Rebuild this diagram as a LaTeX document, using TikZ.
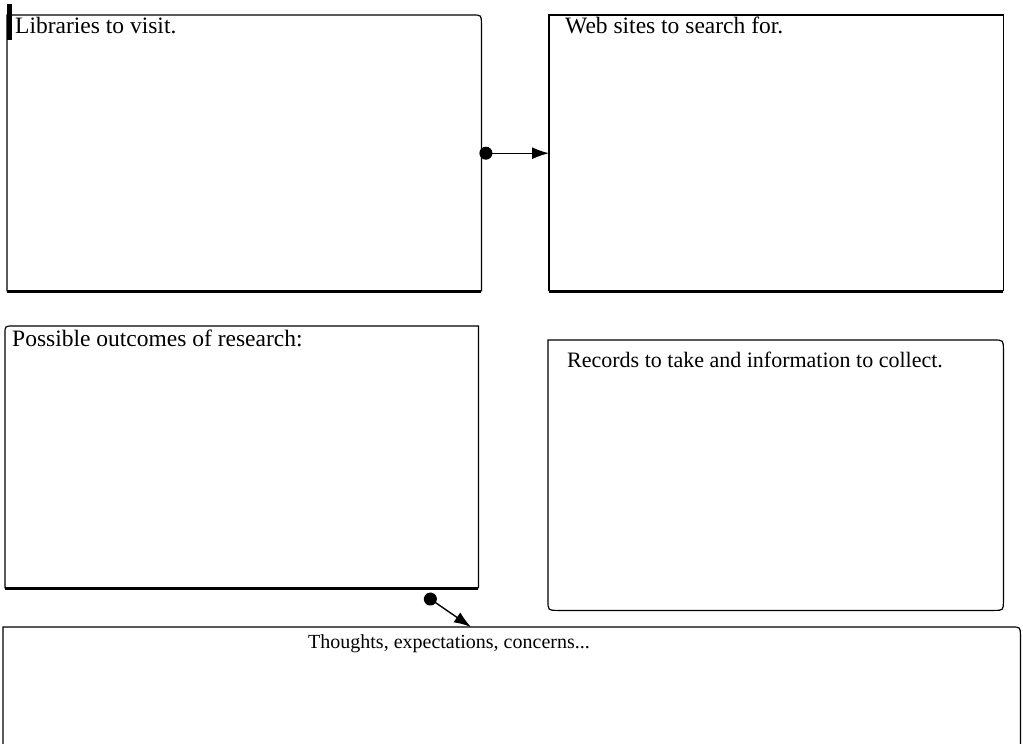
\documentclass[tikz,border=0pt]{standalone}
\usepackage{fontspec}
\setmainfont{Liberation Serif}
\usetikzlibrary{arrows.meta}

\tikzset{
  panel/.style={draw=none, inner sep=0pt, anchor=north west},
  frame/.style={draw=black, line width=1.2pt},
  heavy/.style={draw=black, line width=2.6pt},
  caption/.style={font=\fontsize{23.5}{26}\selectfont, inner sep=0pt},
  link/.style={draw=black, line width=1.4pt,
    {Circle[length=13pt]}-{Latex[length=17pt,width=12pt]}}
}

\begin{document}
\begin{tikzpicture}[x=1pt,y=-1pt]
  \useasboundingbox (0,0) rectangle (1023,744);

  % panel areas
  \node[panel, minimum width=474pt, minimum height=276pt] (lib) at (7,15) {};
  \node[panel, minimum width=454pt, minimum height=276pt] (web) at (549,15) {};
  \node[panel, minimum width=473pt, minimum height=262pt] (out) at (5,326) {};
  \node[panel, minimum width=455pt, minimum height=270pt] (rec) at (548,340) {};
  \node[panel, minimum width=1017pt, minimum height=117pt] (tho) at (3,627) {};

  % Libraries panel: rounded top-right corner, heavy bottom rule
  \draw[frame] (lib.south west) -- (lib.north west)
    -- ([xshift=-9pt]lib.north east)
    .. controls (lib.north east) .. ([yshift=-9pt]lib.north east)
    -- (lib.south east);
  \draw[heavy] (lib.south west) -- (lib.south east);

  % Web sites panel
  \draw[frame] (web.south west) -- (web.north west) -- (web.north east) -- (web.south east);
  \draw[heavy] (web.south west) -- (web.south east);

  % Outcomes panel: rounded top-left corner
  \draw[frame] (out.south west) -- ([yshift=-8pt]out.north west)
    .. controls (out.north west) .. ([xshift=8pt]out.north west)
    -- (out.north east) -- (out.south east);
  \draw[heavy] (out.south west) -- (out.south east);

  % Records panel: three rounded corners
  \draw[frame] (rec.north west)
    -- ([xshift=-10pt]rec.north east)
    .. controls (rec.north east) .. ([yshift=-10pt]rec.north east)
    -- ([yshift=10pt]rec.south east)
    .. controls (rec.south east) .. ([xshift=-10pt]rec.south east)
    -- ([xshift=10pt]rec.south west)
    .. controls (rec.south west) .. ([yshift=10pt]rec.south west)
    -- cycle;

  % Thoughts panel, running off the lower edge
  \draw[frame] (tho.south west) -- (tho.north west)
    -- ([xshift=-9pt]tho.north east)
    .. controls (tho.north east) .. ([yshift=-9pt]tho.north east)
    -- (tho.south east);

  % marker bar at the upper left
  \fill[black] (7,4) rectangle (12,40);

  % headings
  \node[caption, anchor=base west] (libt) at ([xshift=8pt,yshift=-19pt]lib.north west) {Libraries to visit.};
  \node[caption, anchor=base west] (webt) at ([xshift=16pt,yshift=-19pt]web.north west) {Web sites to search for.};
  \node[caption, anchor=base west] (outt) at ([xshift=7pt,yshift=-20pt]out.north west) {Possible outcomes of research:};
  \node[caption, anchor=base west, font=\fontsize{22}{25}\selectfont] (rect) at ([xshift=19pt,yshift=-27pt]rec.north west) {Records to take and information to collect.};
  \node[caption, anchor=base, font=\fontsize{20}{23}\selectfont] (thot) at ([xshift=446pt,yshift=-21pt]tho.north west) {Thoughts, expectations, concerns...};

  % connectors
  \coordinate (a2s) at ([xshift=420pt,yshift=-7pt]out.south west);
  \coordinate (a2e) at ([xshift=468pt]tho.north west);
  \draw[link] ([xshift=-2pt]lib.east) -- (web.west);
  \draw[link] (a2s) -- (a2e);
\end{tikzpicture}
\end{document}
